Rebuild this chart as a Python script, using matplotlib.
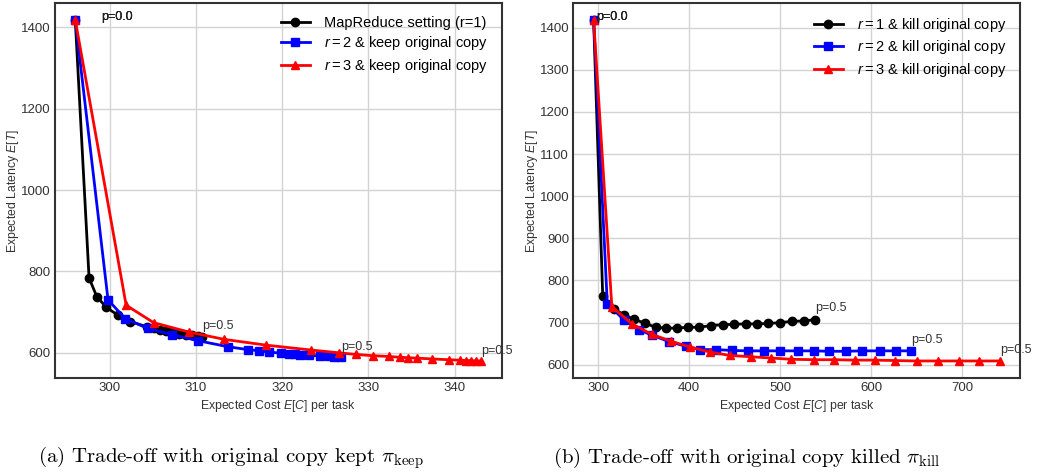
import numpy as np
import matplotlib
matplotlib.use('Agg')
import matplotlib.pyplot as plt

plt.rcParams['font.family'] = ['Liberation Sans', 'DejaVu Sans']
plt.rcParams['mathtext.fontset'] = 'custom'
plt.rcParams['mathtext.rm'] = 'Liberation Sans'
plt.rcParams['mathtext.it'] = 'Liberation Sans:italic'

# (a) original copy kept
keep_r1_cost = [296.0, 297.6, 298.5, 299.6, 300.9, 302.4, 304.3, 305.1, 305.8, 306.5, 307.2,
                308.0, 308.8, 309.5, 310.2, 310.7]
keep_r1_lat = [1418, 784, 738, 712, 693, 677, 664, 660, 656, 653, 650, 647, 645, 643, 641, 640]
keep_r2_cost = [296.0, 299.8, 301.8, 304.4, 307.2, 310.2, 313.7, 316.0, 317.3, 318.5, 319.9,
                320.8, 321.5, 322.1, 323.1, 324.4, 325.4, 326.0, 326.8]
keep_r2_lat = [1418, 730, 684, 660, 645, 630, 615, 608, 605, 602, 599, 597, 596, 595, 594,
               592, 591, 590, 590]
keep_r3_cost = [296.0, 301.9, 305.1, 309.2, 313.3, 318.1, 323.3, 326.6, 328.6, 330.5, 332.4,
                333.7, 334.6, 335.6, 337.4, 339.3, 340.6, 341.3, 341.9, 342.5, 343.1]
keep_r3_lat = [1418, 717, 674, 651, 633, 619, 607, 600, 596, 593, 591, 589, 588, 587, 585,
               583, 582, 581, 581, 580, 580]

# (b) original copy killed
kill_r1_cost = [295, 305, 317, 328, 339, 351, 363, 375, 387, 399, 411, 424, 437, 449, 462,
                474, 487, 500, 513, 526, 538]
kill_r1_lat = [1418, 763, 733, 719, 708, 699, 689, 687, 687, 689, 689, 693, 695, 696, 697,
               697, 698, 700, 703, 704, 707]
kill_r2_cost = [295, 310, 328, 345, 359, 378, 396, 412, 429, 447, 464, 482, 500, 519, 537,
                553, 572, 590, 609, 627, 644]
kill_r2_lat = [1418, 745, 707, 683, 670, 655, 644, 636, 636, 634, 633, 633, 633, 633, 633,
               632, 632, 633, 633, 633, 633]
kill_r3_cost = [295, 315, 337, 359, 380, 401, 423, 445, 468, 490, 512, 537, 559, 582, 604,
                626, 650, 673, 696, 718, 741]
kill_r3_lat = [1418, 738, 697, 672, 656, 642, 630, 622, 619, 616, 613, 612, 612, 611, 611,
               610, 609, 609, 609, 609, 609]

keep_labels = ['MapReduce setting (r=1)', r'$r=2$ & keep original copy', r'$r=3$ & keep original copy']
kill_labels = [r'$r=1$ & kill original copy', r'$r=2$ & kill original copy', r'$r=3$ & kill original copy']
captions = [r'(a) Trade-off with original copy kept $\pi_{\mathrm{keep}}$',
            r'(b) Trade-off with original copy killed $\pi_{\mathrm{kill}}$']


def plot_panel(ax, series, labels):
    styles = [('k', 'o'), ('b', 's'), ('r', '^')]
    for (x, y), lab, (c, m) in zip(series, labels, styles):
        ax.plot(x, y, color=c, marker=m, lw=2, ms=6, label=lab)
        ax.text(x[0] + 3, y[0], 'p=0.0', fontsize=9, color='#222222')
        ax.text(x[-1], y[-1] * 1.03, 'p=0.5', fontsize=9, color='#333333')
    ax.grid(True, color='#d3d3d3', lw=1)
    ax.set_axisbelow(True)
    for s in ax.spines.values():
        s.set_color('#333333')
        s.set_linewidth(1.5)
    ax.tick_params(length=0, labelsize=9.5, colors='#333333', pad=3)
    ax.set_xlabel('Expected Cost $E[C]$ per task', fontsize=8.8, color='#333333', labelpad=3)
    ax.set_ylabel('Expected Latency $E[T]$', fontsize=8.8, color='#333333', labelpad=0)
    ax.legend(loc='upper right', frameon=False, fontsize=10.5, handlelength=2,
              handletextpad=1.0, borderaxespad=0.5, labelspacing=0.3)


fig = plt.figure(figsize=(10.39, 4.73), dpi=100)
ax1 = fig.add_axes([0.0529, 0.2008, 0.430, 0.793])
ax2 = fig.add_axes([0.5518, 0.2008, 0.430, 0.793])

plot_panel(ax1, [(keep_r1_cost, keep_r1_lat), (keep_r2_cost, keep_r2_lat),
                 (keep_r3_cost, keep_r3_lat)], keep_labels)
plot_panel(ax2, [(kill_r1_cost, kill_r1_lat), (kill_r2_cost, kill_r2_lat),
                 (kill_r3_cost, kill_r3_lat)], kill_labels)
ax1.set_xticks([300, 310, 320, 330, 340])
ax1.set_yticks([600, 800, 1000, 1200, 1400])
ax2.set_xticks([300, 400, 500, 600, 700])

fig.text(0.222, 0.022, captions[0], fontsize=15, family='cmr10', math_fontfamily='cm', ha='center')
fig.text(0.719, 0.022, captions[1], fontsize=15, family='cmr10', math_fontfamily='cm', ha='center')

fig.savefig('out.png', dpi=100)
